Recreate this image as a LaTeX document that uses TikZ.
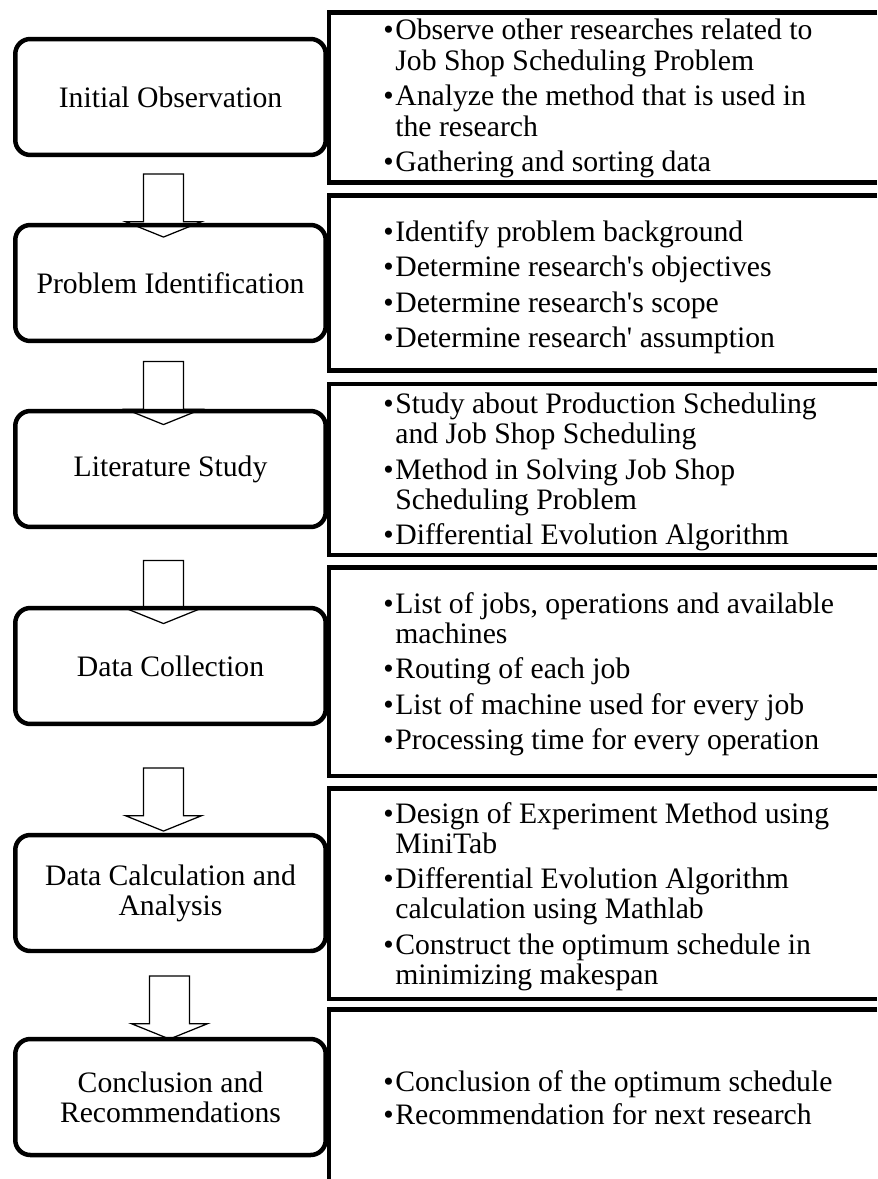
\documentclass[tikz,border=0pt]{standalone}
\usepackage{fontspec}
\setmainfont{Liberation Serif}
\usetikzlibrary{shapes.arrows}

\tikzset{
    stage/.style={draw, line width=0.09cm, rounded corners=0.3cm,
        minimum width=6.21cm, minimum height=2.32cm, inner sep=0pt,
        align=center, font=\fontsize{16.9}{17.07}\selectfont},
    panel/.style={line width=0.085cm},
    points/.style={anchor=north west, inner sep=0pt, align=left,
        font=\fontsize{16.9}{17.07}\selectfont},
    downarr/.style={draw, fill=white, line width=0.025cm, single arrow,
        rotate=-90, minimum height=1.26cm, minimum width=1.5cm,
        inner xsep=0pt, inner ysep=0.39cm,
        single arrow head extend=0.36cm, single arrow tip angle=136}
}
\newcommand{\bul}{\makebox[0.24cm][l]{•}}
\newcommand{\cont}{\hspace*{0.24cm}}

\begin{document}
\begin{tikzpicture}[x=0.02cm, y=-0.02cm]
    \useasboundingbox (0,0) rectangle (877,1179);

    % arrows between the stages
    \node[downarr] (a1) at (163.5,201.5) {};
    \node[downarr] (a2) at (163.5,389) {};
    \node[downarr] (a3) at (163.5,588) {};
    \node[downarr] (a4) at (163.5,795.5) {};
    \node[downarr] (a5) at (169.5,1003.5) {};

    % stages
    \node[stage] (obs) at (170.5,97) {Initial Observation};
    \node[stage] (ident) at (170.5,283) {Problem Identification};
    \node[stage] (lit) at (170.5,469) {Literature Study};
    \node[stage] (coll) at (170.5,666) {Data Collection};
    \node[stage] (calc) at (170.5,893) {Data Calculation and\\Analysis};
    \node[stage] (concl) at (170.5,1097) {Conclusion and\\Recommendations};

    % panels on the right
    \draw[panel] (877,12.5) -- (329,12.5) -- (329,182.5) -- (877,182.5);
    \draw[panel] (877,195.5) -- (329,195.5) -- (329,370.5) -- (877,370.5);
    \draw[panel] (877,384) -- (329,384) -- (329,555) -- (877,555);
    \draw[panel] (877,567.5) -- (329,567.5) -- (329,776) -- (877,776);
    \draw[panel] (877,788.5) -- (329,788.5) -- (329,999) -- (877,999);
    \draw[panel] (877,1009.5) -- (329,1009.5) -- (329,1179);

    \node[points, font=\fontsize{16.9}{17.6}\selectfont] (obslist) at (383,19) {%
        \bul Observe other researches related to\\
        \cont Job Shop Scheduling Problem\\[0.08cm]
        \bul Analyze the method that is used in\\
        \cont the research\\[0.08cm]
        \bul Gathering and sorting data};

    \node[points] (identlist) at (383,220) {%
        \bul Identify problem background\\[0.11cm]
        \bul Determine research\textquotesingle s objectives\\[0.11cm]
        \bul Determine research\textquotesingle s scope\\[0.11cm]
        \bul Determine research\textquotesingle{} assumption};

    \node[points] (litlist) at (383,393) {%
        \bul Study about Production Scheduling\\
        \cont and Job Shop Scheduling\\[0.11cm]
        \bul Method in Solving Job Shop\\
        \cont Scheduling Problem\\[0.11cm]
        \bul Differential Evolution Algorithm};

    \node[points] (colllist) at (383,592) {%
        \bul List of jobs, operations and available\\
        \cont machines\\[0.11cm]
        \bul Routing of each job\\[0.11cm]
        \bul List of machine used for every job\\[0.11cm]
        \bul Processing time for every operation};

    \node[points] (calclist) at (383,802) {%
        \bul Design of Experiment Method using\\
        \cont MiniTab\\[0.11cm]
        \bul Differential Evolution Algorithm\\
        \cont calculation using Mathlab\\[0.11cm]
        \bul Construct the optimum schedule in\\
        \cont minimizing makespan};

    \node[points] (concllist) at (383,1070) {%
        \bul Conclusion of the optimum schedule\\[0.06cm]
        \bul Recommendation for next research};
\end{tikzpicture}
\end{document}
